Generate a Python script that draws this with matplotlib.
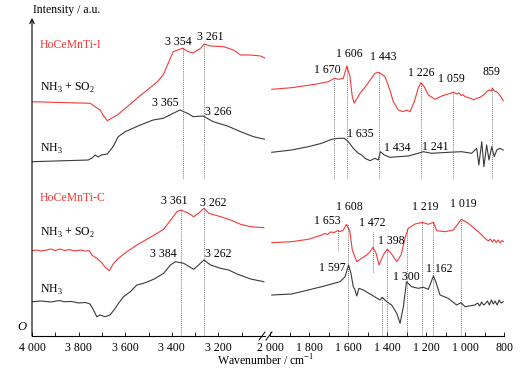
##----------Importing necessary packages-------------
import numpy as np
import matplotlib
matplotlib.use('Agg')
import matplotlib.pyplot as plt
from matplotlib.lines import Line2D

plt.rcParams['font.family'] = ['Liberation Serif', 'DejaVu Serif']
plt.rcParams['mathtext.fontset'] = 'custom'
plt.rcParams['mathtext.rm'] = 'Liberation Serif'
plt.rcParams['font.size'] = 8

##-----------Data (wavenumber / cm-1, intensity / a.u.)-------------------------
## HoCeMnTi-I, NH3 + SO2, 4000-3000
iSO2_hw = [4000, 3750, 3729, 3708, 3695, 3677, 3634, 3591, 3548, 3505, 3462, 3437, 3415, 3394,
           3354, 3329, 3308, 3275, 3261, 3234, 3178, 3135, 3105, 3062, 3019, 3000]
iSO2_h = [234.3, 232.7, 229.3, 226, 221, 215.3, 221, 229.3, 238, 246, 254.3, 261, 273, 284.3,
          287.7, 284.3, 283, 288, 292, 290, 289.3, 286, 281, 281, 280, 278]
## HoCeMnTi-I, NH3, 4000-3000
iNH3_hw = [4000, 3759, 3742, 3729, 3716, 3703, 3677, 3652, 3630, 3600, 3535, 3480, 3437, 3394,
           3365, 3333, 3308, 3266, 3222, 3161, 3105, 3049, 3000]
iNH3_h = [174.3, 176, 178, 181, 179, 181, 182, 189.3, 199.3, 204.3, 211, 216, 217.7, 222.7,
          226, 222.7, 219.3, 220, 214.3, 210, 204.3, 199.3, 196.7]
## HoCeMnTi-I, NH3 + SO2, 2000-800
iSO2_lw = [1991, 1889, 1769, 1701, 1670, 1650, 1624, 1606, 1590, 1578, 1568, 1538, 1504, 1462,
           1443, 1410, 1385, 1368, 1342, 1316, 1299, 1282, 1260, 1240, 1226, 1209, 1188, 1154,
           1119, 1059, 1043, 1030, 1020, 1010, 1000, 985, 970, 955, 940, 923, 905, 889, 875,
           865, 859, 850, 840, 829, 815, 804]
iSO2_l = [246.7, 248.3, 251.7, 254.3, 257.7, 256.7, 257.7, 270, 259.3, 239.3, 232.7, 242.7, 251,
          262.7, 263.7, 259.3, 246, 234.3, 226, 224.3, 226, 224.3, 234.3, 247.7, 253.3, 249.3,
          241, 236.7, 240, 243.7, 242, 243, 240.5, 241.5, 239.3, 238.5, 237.5, 236, 237.8,
          238.7, 241, 244.3, 246, 245, 248, 245, 244.5, 242.7, 239, 235.3]
## HoCeMnTi-I, NH3, 2000-800
iNH3_lw = [1991, 1889, 1804, 1735, 1684, 1650, 1619, 1598, 1573, 1547, 1530, 1513, 1487, 1462,
           1445, 1434, 1414, 1385, 1342, 1291, 1241, 1214, 1171, 1086, 1017, 966, 940, 929,
           914, 903, 889, 877, 863, 850, 837, 821, 804]
iNH3_l = [183.7, 186, 189.3, 192.7, 196.7, 197.7, 197.7, 194.3, 187.7, 182.7, 181, 177.7, 175.3,
          177.7, 176, 184.3, 181, 178.7, 179.3, 180, 182.7, 184.3, 182.7, 183.7, 184.3, 182.7,
          187.7, 171, 194.3, 169.3, 191, 176, 189.3, 179.3, 186, 187.7, 186]

## HoCeMnTi-C, NH3 + SO2, 4000-3000
cSO2_hw = [4000, 3980, 3960, 3937, 3920, 3900, 3880, 3860, 3840, 3815, 3790, 3772, 3754, 3743,
           3722, 3700, 3686, 3668, 3650, 3629, 3593, 3550, 3492, 3435, 3399, 3378, 3361, 3328,
           3306, 3285, 3262, 3241, 3191, 3148, 3105, 3062, 3005]
cSO2_h = [85.3, 86, 85, 86, 87, 85.5, 87, 85.5, 86.5, 85, 86, 85, 85.3, 81, 77.7, 73.3, 68.7,
          65.3, 72.7, 77.7, 84.3, 91, 98.7, 106.7, 117.7, 124.3, 126, 122.7, 119.3, 122.7,
          127.7, 122.7, 119.3, 116, 111.7, 109.3, 108.3]
## HoCeMnTi-C, NH3, 4000-3000
cNH3_hw = [4000, 3960, 3920, 3880, 3865, 3830, 3800, 3770, 3751, 3736, 3722, 3708, 3686, 3665,
           3643, 3629, 3607, 3578, 3550, 3521, 3478, 3435, 3406, 3384, 3349, 3306, 3285, 3262,
           3234, 3191, 3156, 3120, 3062, 3005]
cNH3_h = [34.3, 35, 34, 35.5, 34.3, 34.5, 33, 33.5, 32, 26, 19.3, 21, 19.3, 21, 27.7, 32.7,
          39.3, 44.3, 51, 52.7, 56.7, 62.7, 71, 74.3, 72.7, 66.7, 71, 76, 71, 67.7, 66, 62,
          57, 54.3]
## HoCeMnTi-C, NH3 + SO2, 2000-800
cSO2_lw = [1991, 1889, 1804, 1735, 1720, 1705, 1690, 1670, 1653, 1641, 1624, 1608, 1590, 1578,
           1555, 1530, 1504, 1487, 1472, 1456, 1441, 1419, 1398, 1373, 1350, 1328, 1308, 1291,
           1256, 1219, 1188, 1162, 1145, 1103, 1060, 1034, 1019, 983, 932, 897, 880, 870, 860,
           850, 840, 830, 820, 810, 804]
cSO2_l = [93.3, 94.3, 96.7, 101, 102.5, 101.5, 104, 103.5, 105.5, 104.3, 106, 111.7, 104.3, 86,
          74.3, 77.7, 81, 84.3, 88.7, 82.7, 71, 81, 87, 81, 74.3, 81, 97.7, 107.7, 112, 113.7,
          111.7, 113.7, 105.3, 104.3, 106, 112.7, 116.7, 112.7, 104.3, 97.7, 95, 97, 94,
          96.5, 93.5, 96, 93, 95.5, 94.3]
## HoCeMnTi-C, NH3, 2000-800
cNH3_lw = [1991, 1889, 1804, 1735, 1684, 1641, 1615, 1597, 1585, 1573, 1564, 1555, 1544, 1522,
           1478, 1436, 1424, 1402, 1376, 1350, 1333, 1316, 1300, 1274, 1240, 1214, 1188, 1162,
           1150, 1128, 1086, 1043, 1021, 1000, 949, 935, 925, 915, 905, 897, 885, 875, 865,
           855, 846, 835, 825, 815, 804]
cNH3_l = [41, 42, 46, 49.3, 52, 54.3, 59.3, 71, 62.7, 49.3, 46, 40, 47.7, 46, 41, 36, 38.7,
          34.3, 31, 22.7, 12.7, 29.3, 54.3, 49.3, 47.7, 48.7, 46.7, 60, 54.3, 41, 37.7, 31,
          33.3, 29.3, 31, 33, 30, 34, 31, 32, 35, 31, 36, 32, 35, 31, 36, 33, 34.3]

## peak labels: text, wavenumber, intensity
hi_labels = [('3 354', 3372, 294), ('3 261', 3234, 299), ('3 365', 3428, 233), ('3 266', 3200, 224),
             ('3 361', 3391, 135), ('3 262', 3224, 133.5), ('3 384', 3437, 82), ('3 262', 3202, 82)]
lo_labels = [('1 670', 1705, 266), ('1 606', 1595, 282), ('1 443', 1421, 279), ('1 226', 1223, 263),
             ('1 059', 1072, 257), ('859', 862, 264), ('1 635', 1538, 202), ('1 434', 1349, 188),
             ('1 241', 1154, 189),
             ('1 653', 1708, 115.5), ('1 608', 1595, 128.5), ('1 472', 1477, 113.5),
             ('1 398', 1379, 95), ('1 219', 1205, 128.5), ('1 019', 1010, 132),
             ('1 597', 1682, 67.7), ('1 300', 1300, 58.5), ('1 162', 1133, 67)]

## dotted guide lines: wavenumber, from, to
hi_guides = [(3354, 158, 288), (3261, 158, 292), (3361, 0, 126), (3262, 0, 128)]
lo_guides = [(1670, 158, 257), (1606, 158, 270), (1443, 158, 264), (1226, 158, 253),
             (1059, 158, 244), (859, 158, 248),
             (1653, 86, 106), (1600, 0, 112), (1472, 64, 104), (1424, 0, 39), (1398, 0, 87),
             (1300, 0, 108), (1219, 0, 114), (1162, 0, 114), (1019, 0, 117)]

hi_ticks = [4000, 3800, 3600, 3400, 3200]
lo_ticks = [2000, 1800, 1600, 1400, 1200, 1000, 800]

##-----------Figure--------------------------------------------------------------
W, H = 530, 377
red = '#f23a3a'
dark = '#3a3a3a'
fig = plt.figure(figsize=(W / 100, H / 100), dpi=100)
y0, y1 = (H - 336) / H, (H - 18) / H
ax1 = fig.add_axes([32 / W, y0, (265 - 32) / W, y1 - y0])
ax2 = fig.add_axes([270 / W, y0, (504 - 270) / W, y1 - y0])

ax1.plot(iSO2_hw, iSO2_h, color=red, lw=0.8)
ax1.plot(iNH3_hw, iNH3_h, color=dark, lw=0.8)
ax1.plot(cSO2_hw, cSO2_h, color=red, lw=0.8)
ax1.plot(cNH3_hw, cNH3_h, color=dark, lw=0.8)
ax2.plot(iSO2_lw, iSO2_l, color=red, lw=0.8)
ax2.plot(iNH3_lw, iNH3_l, color=dark, lw=0.8)
ax2.plot(cSO2_lw, cSO2_l, color=red, lw=0.8)
ax2.plot(cNH3_lw, cNH3_l, color=dark, lw=0.8)

for ax, guides, labels in [(ax1, hi_guides, hi_labels), (ax2, lo_guides, lo_labels)]:
    for w, a, b in guides:
        ax.plot([w, w], [a, b], color='#444444', lw=0.6, ls=(0, (1, 1.5)))
    for t, w, v in labels:
        ax.text(w, v, t, ha='center', va='center', fontsize=8.5)

ax1.set_xlim(4000, 3000)
ax2.set_xlim(2000, 800)
for ax in (ax1, ax2):
    ax.set_ylim(0, 318)
    ax.patch.set_visible(False)
    for s in ('top', 'right', 'left'):
        ax.spines[s].set_visible(False)
    ax.spines['bottom'].set_linewidth(0.8)
    ax.set_yticks([])
    ax.tick_params(axis='x', which='both', direction='in', length=3, width=0.6, pad=4,
                   labelsize=8.5)
ax1.set_xticks(hi_ticks)
ax1.set_xticklabels(['{:,}'.format(t).replace(',', ' ') for t in hi_ticks])
ax1.set_xticks(np.arange(3100, 4000, 100), minor=True)
ax2.set_xticks(lo_ticks)
ax2.set_xticklabels(['{:,}'.format(t).replace(',', ' ') for t in lo_ticks])
ax2.set_xticks(np.arange(900, 2000, 100), minor=True)

## y axis with arrow
ax1.annotate('', xy=(0, 1), xytext=(0, 0), xycoords='axes fraction',
             arrowprops=dict(arrowstyle='->', lw=0.8, color='black', shrinkA=0, shrinkB=0))
ax1.text(-0.045, 0.01, 'O', transform=ax1.transAxes, style='italic', fontsize=9,
         ha='center', va='bottom')

## series names
ax1.text(3966, 291, 'HoCeMnTi-I', color=red, fontsize=8.5, va='center')
ax1.text(3966, 248, r'NH$_3$ + SO$_2$', fontsize=8.5, va='center')
ax1.text(3966, 187, r'NH$_3$', fontsize=8.5, va='center')
ax1.text(3966, 138, 'HoCeMnTi-C', color=red, fontsize=8.5, va='center')
ax1.text(3966, 103, r'NH$_3$ + SO$_2$', fontsize=8.5, va='center')
ax1.text(3966, 46, r'NH$_3$', fontsize=8.5, va='center')

## axis break marks
for px in (262, 269):
    fig.add_artist(Line2D([(px - 3) / W, (px + 3) / W], [(H - 340) / H, (H - 332) / H],
                          color='black', lw=0.7))

fig.text(33 / W, 1 - 10 / H, 'Intensity / a.u.', ha='left', va='center', fontsize=8.5)
fig.text(266 / W, 1 - 361 / H, r'Wavenumber / cm$^{-1}$', ha='center', va='center',
         fontsize=8.5)

fig.savefig('out.png', dpi=100)
